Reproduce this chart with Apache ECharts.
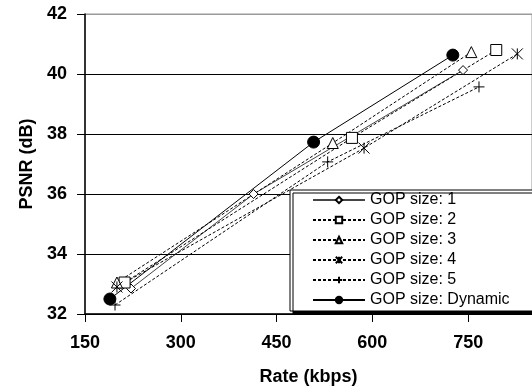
<!DOCTYPE html>
<html>
<head>
<meta charset="utf-8">
<script src="https://cdn.jsdelivr.net/npm/echarts@6/dist/echarts.min.js"></script>
<style>
  html, body { margin: 0; padding: 0; background: #fff; }
  #chart { width: 532px; height: 392px; }
</style>
</head>
<body>
<div id="chart"></div>
<script>
const names = ['GOP size: 1', 'GOP size: 2', 'GOP size: 3', 'GOP size: 4', 'GOP size: 5', 'GOP size: Dynamic']

const rate1 = [222, 414, 742]
const psnr1 = [32.85, 36.0, 40.13]
const rate2 = [212, 568, 794]
const psnr2 = [33.05, 37.87, 40.8]
const rate3 = [200, 538, 755]
const psnr3 = [33.05, 37.7, 40.73]
const rate4 = [200, 587, 827]
const psnr4 = [32.9, 37.53, 40.67]
const rate5 = [197, 530, 767]
const psnr5 = [32.3, 37.07, 39.57]
const rateD = [189, 508, 726]
const psnrD = [32.5, 37.73, 40.63]

const xTicks = [150, 300, 450, 600, 750]
const yTicks = [32, 34, 36, 38, 40, 42]

const font = '"Liberation Sans", Arial, sans-serif'
const starPath = 'path://M0,0L10,10M10,0L0,10M5,0L5,10'
const plusPath = 'path://M5,0L5,10M0,5L10,5'

const zip = (xs, ys) => xs.map((x, i) => [x, ys[i]])

const mk = (i, xs, ys, symbol, size, dashed, fill) => ({
  name: names[i],
  type: 'line',
  data: zip(xs, ys),
  symbol,
  symbolSize: size,
  showAllSymbol: true,
  lineStyle: { color: '#000', width: 1, type: dashed ? [3, 2] : 'solid' },
  itemStyle: { color: fill, borderColor: '#000', borderWidth: 1 },
  emphasis: { disabled: true },
  z: 3,
})

const series = [
  mk(0, rate1, psnr1, 'diamond', 9, false, '#fff'),
  mk(1, rate2, psnr2, 'rect', 11, true, '#fff'),
  mk(2, rate3, psnr3, 'triangle', 11, true, '#fff'),
  mk(3, rate4, psnr4, starPath, 11, true, '#fff'),
  mk(4, rate5, psnr5, plusPath, 11, true, '#fff'),
  mk(5, rateD, psnrD, 'circle', 12, false, '#000'),
]
series[0].lineStyle.color = '#444'

const chart = echarts.init(document.getElementById('chart'))
chart.setOption({
  animation: false,
  backgroundColor: '#fff',
  textStyle: { fontFamily: font },
  grid: {
    left: 85, top: 14, right: 0, bottom: 78,
    show: true, borderColor: '#999', borderWidth: 1,
  },
  xAxis: {
    type: 'value',
    min: 150, max: 850, interval: 150,
    name: 'Rate (kbps)',
    nameLocation: 'middle',
    nameGap: 54,
    nameTextStyle: { fontSize: 18, fontWeight: 'bold', color: '#000', fontFamily: font },
    axisLine: { show: true, lineStyle: { color: '#000', width: 1.5 } },
    axisTick: { show: true, length: 8, lineStyle: { color: '#000' } },
    axisLabel: {
      margin: 20, fontSize: 18, fontWeight: 'bold', color: '#000', fontFamily: font,
      showMaxLabel: false,
      formatter: v => xTicks.includes(v) ? String(v) : '',
    },
    splitLine: { show: false },
  },
  yAxis: {
    type: 'value',
    min: 32, max: 42, interval: 2,
    name: 'PSNR (dB)',
    nameLocation: 'middle',
    nameGap: 48,
    nameTextStyle: { fontSize: 18, fontWeight: 'bold', color: '#000', fontFamily: font },
    axisLine: { show: true, lineStyle: { color: '#000', width: 1.5 } },
    axisTick: { show: true, length: 8, lineStyle: { color: '#000' } },
    axisLabel: {
      margin: 18, fontSize: 18, fontWeight: 'bold', color: '#000', fontFamily: font,
      formatter: v => yTicks.includes(v) ? String(v) : '',
    },
    splitLine: {
      show: true,
      lineStyle: { color: ['#000', '#000', '#000', '#000', '#000', '#999'], width: 1.2 },
    },
  },
  legend: {
    data: names,
    orient: 'vertical',
    left: 290, top: 190,
    itemWidth: 52, itemHeight: 8, itemGap: 4,
    padding: [2, 24, 3, 22],
    backgroundColor: '#fff',
    borderColor: '#000', borderWidth: 1,
    shadowColor: '#000', shadowBlur: 0, shadowOffsetX: 3, shadowOffsetY: 3,
    textStyle: { fontSize: 16, color: '#000', fontFamily: font },
    selectedMode: false,
  },
  series,
})
</script>
</body>
</html>
